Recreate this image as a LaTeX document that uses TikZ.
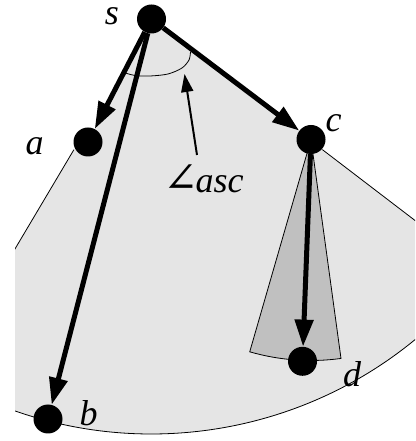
\documentclass[tikz,border=0pt]{standalone}
\usepackage{fontspec}
\setmainfont{Liberation Serif}
\newfontfamily\symfnt{DejaVu Serif}
\usetikzlibrary{arrows.meta}
\definecolor{lightsec}{RGB}{229,229,229}
\definecolor{darksec}{RGB}{192,192,192}
\tikzset{
  vtx/.style={circle, fill=black, minimum size=29pt, inner sep=0pt},
  edge/.style={line width=5pt, -{Triangle[length=27pt,width=18pt]}},
  thinline/.style={line width=0.8pt},
  pointer/.style={line width=2pt, -{Triangle[length=18pt,width=12pt]}},
  lbl/.style={anchor=base, inner sep=0pt, font=\fontsize{36}{40}\selectfont\itshape}
}
\begin{document}
\begin{tikzpicture}[x=1pt,y=1pt]
\useasboundingbox (0,0) rectangle (415,441);
% node positions
\coordinate (S) at (151.5,422);
\coordinate (A) at (88,299);
\coordinate (B) at (48,22);
\coordinate (C) at (311,301.5);
\coordinate (D) at (302.5,79.7);
% sector edge coordinates
\path (S) ++(-120.7:152pt) coordinate (aL);
\path (S) ++(-120.7:415pt) coordinate (L);
\path (S) ++(-37.4:215pt) coordinate (cR);
\path (S) ++(-37.4:415pt) coordinate (R);
% outer sector
\begin{scope}
\clip (15,0) rectangle (415,441);
\fill[lightsec] (S) -- (A) -- (aL) -- (L) arc[start angle=-120.7, end angle=-37.4, radius=415pt] -- (cR) -- (C) -- cycle;
\draw[thinline] (aL) -- (L) arc[start angle=-120.7, end angle=-37.4, radius=415pt] -- (cR);
\end{scope}
% inner sector at c
\draw[thinline, fill=darksec] (C) -- ++(253.9:221pt) arc[start angle=253.9, end angle=277.8, radius=221pt] -- cycle;
% angle arc
\draw[thinline] plot[smooth] coordinates {(122,369) (135,365.5) (150,365) (168,367) (182,373) (189,381) (190.5,389)};
% nodes
\node[vtx] (s) at (S) {};
\node[vtx] (a) at (A) {};
\node[vtx] (b) at (B) {};
\node[vtx] (c) at (C) {};
\node[vtx] (d) at (D) {};
% edges
\draw[edge] (s) -- (a);
\draw[edge] (s) -- (b);
\draw[edge] (s) -- (c);
\draw[edge] (c) -- (d);
% labels
\node[lbl, text height=1.4ex] (ls) at (112,416) {s};
\node[lbl] (la) at (34.5,286) {a};
\node[lbl] (lb) at (88.5,16) {b};
\node[lbl] (lc) at (333.5,309) {c};
\node[lbl] (ld) at (352,54) {d};
\node[lbl] (lang) at (203.5,248) {{\symfnt\upshape\fontsize{42}{46}\selectfont ∠}\kern-3pt asc};
% pointer
\coordinate (ptail) at (197,286);
\coordinate (ptip) at (184.5,367);
\draw[pointer] (ptail) -- (ptip);
\end{tikzpicture}
\end{document}
